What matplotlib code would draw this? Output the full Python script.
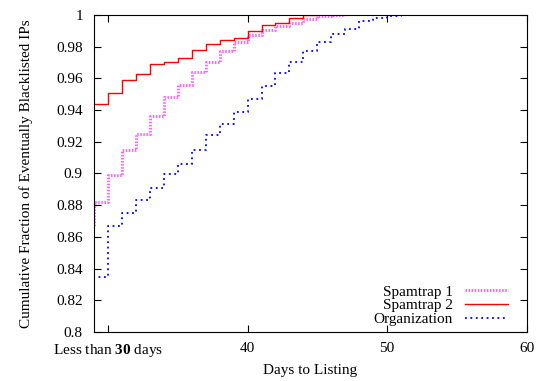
import matplotlib
matplotlib.use("Agg")
import matplotlib.pyplot as plt

plt.rcParams['font.family'] = ['Liberation Serif', 'DejaVu Serif']
plt.rcParams['mathtext.fontset'] = 'custom'
plt.rcParams['mathtext.rm'] = 'Liberation Serif'
plt.rcParams['mathtext.bf'] = 'Liberation Serif:bold'

# days (step starts) and cumulative fractions
days_trap1 = [28, 29, 30, 31, 32, 33, 34, 35, 36, 37, 38, 39, 40, 41, 42, 43, 44, 45, 46, 47]
cdf_trap1 = [0.866, 0.882, 0.899, 0.915, 0.925, 0.936, 0.948, 0.956, 0.964, 0.970,
             0.977, 0.983, 0.987, 0.9905, 0.993, 0.995, 0.9975, 0.9994, 1.0, 1.0]

days_trap2 = [29, 30, 31, 32, 33, 34, 35, 36, 37, 38, 39, 40, 41, 42, 43, 44, 45]
cdf_trap2 = [0.944, 0.951, 0.959, 0.963, 0.969, 0.9705, 0.973, 0.978, 0.9815,
             0.984, 0.9857, 0.990, 0.9933, 0.9947, 0.998, 1.0, 1.0]

days_org = [28, 29, 30, 31, 32, 33, 34, 35, 36, 37, 38, 39, 40, 41, 42, 43, 44,
            45, 46, 47, 48, 49, 50, 51, 52]
cdf_org = [0.809, 0.835, 0.867, 0.875, 0.883, 0.891, 0.8995, 0.906, 0.915, 0.924,
           0.931, 0.939, 0.947, 0.955, 0.9636, 0.970, 0.977, 0.983, 0.988, 0.991,
           0.996, 0.998, 0.999, 1.0, 1.0]

xticks = [30, 40, 50, 60]
xticklabels = [r'Less than $\mathbf{30}$ days', '40', '50', '60']

fig = plt.figure(figsize=(5.37, 3.81), dpi=100)
ax = fig.add_axes([0.175, 0.1286, 0.806, 0.8324])

ax.step(days_trap1, cdf_trap1, where='post', color='#ff00ff', lw=2.2,
        linestyle=(0, (0.5, 0.5)), alpha=0.6, label='Spamtrap 1')
ax.step(days_trap2, cdf_trap2, where='post', color='#ff0000', lw=1.0,
        label='Spamtrap 2')
ax.step(days_org, cdf_org, where='post', color='#0000ff', lw=1.3,
        linestyle=(0, (1, 2)), label='Organization')

ax.set_xlim(29, 60)
ax.set_ylim(0.8, 1.0)
ax.set_xticks(xticks)
ax.set_xticklabels(xticklabels)
ax.set_yticks([0.8 + 0.02 * i for i in range(11)])
ax.set_yticklabels(['0.8', '0.82', '0.84', '0.86', '0.88', '0.9', '0.92',
                    '0.94', '0.96', '0.98', '1'])
ax.tick_params(direction='in', top=True, right=True, labelsize=11, length=5)
ax.tick_params(axis='y', pad=8)
ax.tick_params(axis='x', pad=7)

ax.set_xlabel('Days to Listing', fontsize=11, labelpad=4)
ax.set_ylabel('Cumulative Fraction of Eventually Blacklisted IPs', fontsize=11,
              labelpad=17)

ax.legend(loc='lower right', bbox_to_anchor=(0.97, 0.0), frameon=False,
          markerfirst=False, fontsize=11, handlelength=2.8, labelspacing=0.0,
          borderaxespad=0.0, handletextpad=0.8)

fig.savefig('out.png', dpi=100)
